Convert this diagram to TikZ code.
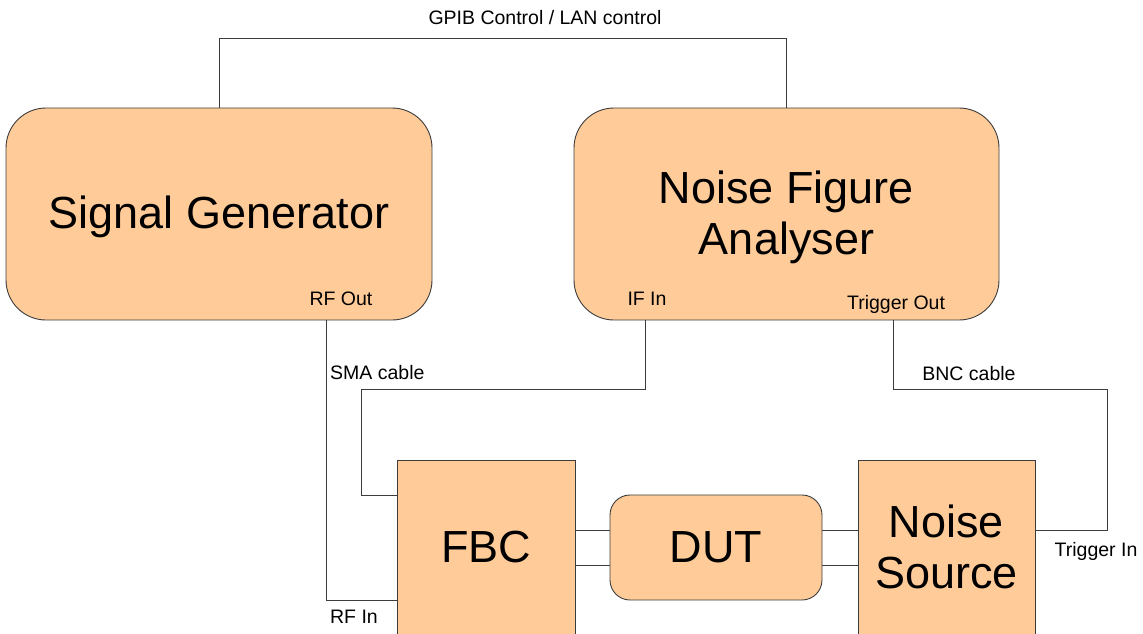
\documentclass[tikz,border=0pt]{standalone}
\usepackage{fontspec}
\setmainfont{Liberation Sans}
\definecolor{boxfill}{RGB}{255,204,153}
\definecolor{edge}{RGB}{60,60,60}
\begin{document}
\begin{tikzpicture}[x=1pt,y=-1pt,
  unit/.style={draw=edge, line width=0.9pt, fill=boxfill, inner sep=0pt,
               font=\fontsize{45}{51}\selectfont, align=center},
  bigbox/.style={unit, rounded corners=40pt, minimum width=426pt, minimum height=212pt},
  smallbox/.style={unit, minimum width=178pt, minimum height=174pt},
  dutbox/.style={unit, rounded corners=20pt, minimum width=212pt, minimum height=105pt},
  title/.style={font=\fontsize{45}{51}\selectfont, align=center, inner sep=0pt},
  wire/.style={draw=edge, line width=0.9pt},
  tag/.style={font=\fontsize{19.5}{22}\selectfont, inner sep=0pt}]
\useasboundingbox (0,0) rectangle (1143,633);
\clip (0,0) rectangle (1143,633);

% instruments
\node[bigbox] (sg) at (219,214) {};
\node[title, yshift=-3pt] (sgtext) at (sg.center) {Signal Generator};
\node[bigbox, minimum width=425pt] (nfa) at (786.5,214) {};
\node[title, yshift=-3pt] (nfatext) at (nfa.center) {Noise Figure\\Analyser};
\node[smallbox] (fbc) at (486,547) {FBC};
\node[dutbox] (dut) at (716,547.5) {DUT};
\node[smallbox, minimum width=177pt] (ns) at (946.5,547) {Noise\\Source};

% port and cable labels
\node[tag] (gpib) at (545,18) {GPIB Control / LAN control};
\node[tag] (rfout) at (341,299) {RF Out};
\node[tag] (ifin) at (647,299) {IF In};
\node[tag] (trigout) at (896,304) {Trigger Out};
\node[tag, anchor=west] (sma) at (330,373) {SMA cable};
\node[tag] (rfin) at (354,617) {RF In};
\node[tag] (bnc) at (969,374) {BNC cable};
\node[tag] (trigin) at (1096,551) {Trigger In};

% control bus
\draw[wire] (sg.north) -- (sg.north |- 0,38) -| (nfa.north);

% RF path
\draw[wire] (sg.south -| 326,0) -- (326,600) -- (fbc.west |- 0,600);
\draw[wire] (nfa.south -| 645,0) -- (645,389) -- (361,389) -- (361,495) -- (fbc.west |- 0,495);

% through connections
\draw[wire] (fbc.east |- 0,530) -- (dut.west |- 0,530);
\draw[wire] (fbc.east |- 0,565) -- (dut.west |- 0,565);
\draw[wire] (dut.east |- 0,530) -- (ns.west |- 0,530);
\draw[wire] (dut.east |- 0,565) -- (ns.west |- 0,565);

% trigger line
\draw[wire] (nfa.south -| 893,0) -- (893,389) -- (1107,389) -- (1107,530) -- (ns.east |- 0,530);
\end{tikzpicture}
\end{document}
